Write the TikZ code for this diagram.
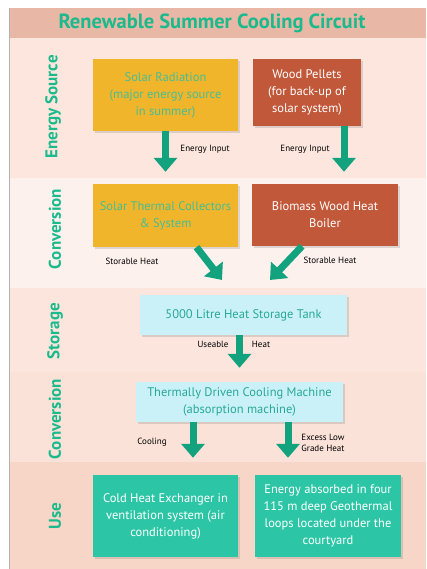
\documentclass[tikz,border=0pt]{standalone}
\usepackage{fontspec}
\setmainfont{PT Sans}
\usetikzlibrary{arrows.meta,shadows}
\definecolor{titleband}{RGB}{233,183,165}
\definecolor{sourceband}{RGB}{252,230,221}
\definecolor{convband}{RGB}{253,241,237}
\definecolor{storeband}{RGB}{251,229,221}
\definecolor{coolband}{RGB}{250,226,216}
\definecolor{useband}{RGB}{247,214,200}
\definecolor{gold}{RGB}{240,181,42}
\definecolor{rust}{RGB}{194,88,58}
\definecolor{mint}{RGB}{70,190,150}
\definecolor{palecyan}{RGB}{202,241,248}
\definecolor{tealtext}{RGB}{40,168,150}
\definecolor{turq}{RGB}{44,198,166}
\definecolor{sidegreen}{RGB}{26,186,140}
\definecolor{flowgreen}{RGB}{18,163,126}
\tikzstyle{box}=[rectangle,inner sep=2pt,align=center,font=\fontsize{12.5}{17}\selectfont,drop shadow={opacity=0.25,shadow xshift=2pt,shadow yshift=-2pt}]
\tikzstyle{sunbox}=[box,fill=gold,text=mint]
\tikzstyle{woodbox}=[box,fill=rust,text=white]
\tikzstyle{palebox}=[box,fill=palecyan,text=tealtext]
\tikzstyle{usebox}=[box,fill=turq,text=white]
\tikzstyle{side}=[rotate=90,font=\bfseries\fontsize{17}{17}\selectfont,text=sidegreen]
\tikzstyle{tag}=[font=\fontsize{9}{11}\selectfont,align=left,inner sep=1pt]
\tikzstyle{flow}=[draw=flowgreen,line width=7pt,-{Triangle[width=23pt,length=14pt]}]

\begin{document}
\begin{tikzpicture}[x=1pt,y=-1pt]
                        \useasboundingbox (0,0) rectangle (426,569);
                        \fill[white] (0,0) rectangle (426,569);

                        % bands
                        \fill[titleband] (9,8) rectangle (426,38);
                        \fill[sourceband] (9,38) rectangle (426,178);
                        \fill[convband] (9,178) rectangle (426,288);
                        \fill[storeband] (9,288) rectangle (426,372);
                        \fill[coolband] (9,372) rectangle (426,462);
                        \fill[useband] (9,462) rectangle (426,569);
                        \draw[gray!60,line width=0.6pt] (9,8) -- (9,569);

                        \node[font=\bfseries\fontsize{20.5}{20.5}\selectfont,text=sidegreen] (title) at (212,23) {Renewable Summer Cooling Circuit};

                        \node[side] (lsource) at (53,107) {Energy Source};
                        \node[side] (lconv) at (55,229) {Conversion};
                        \node[side] (lstore) at (55,331) {Storage};
                        \node[side] (lcool) at (55,419) {Conversion};
                        \node[side] (luse) at (55,516) {Use};

                        \node[sunbox,minimum width=145pt,minimum height=72pt] (solar) at (165.5,95) {Solar Radiation\\(major energy source\\in summer)};
                        \node[woodbox,minimum width=108pt,minimum height=67pt] (wood) at (307,92.5) {Wood Pellets\\(for back-up of\\solar system)};
                        \node[sunbox,minimum width=145pt,minimum height=63pt] (thermal) at (165.5,215.5) {Solar Thermal Collectors\\\& System};
                        \node[woodbox,minimum width=146pt,minimum height=62pt] (biomass) at (325,215) {Biomass Wood Heat\\Boiler};
                        \node[palebox,minimum width=207pt,minimum height=40pt] (tank) at (243.5,315) {5000 Litre Heat Storage Tank};
                        \node[palebox,minimum width=207pt,minimum height=40pt] (chiller) at (239.5,402) {Thermally Driven Cooling Machine\\(absorption machine)};
                        \node[usebox,minimum width=145pt,minimum height=82pt] (exchanger) at (165.5,516) {Cold Heat Exchanger in\\ventilation system (air\\conditioning)};
                        \node[usebox,minimum width=146pt,minimum height=82pt] (geo) at (328,516) {Energy absorbed in four\\115 m deep Geothermal\\loops located under the\\courtyard};

                        \coordinate (in1) at (222,280);
                        \coordinate (in2) at (270,280);

                        \draw[flow,shorten >=12pt] (solar) -- (thermal);
                        \draw[flow,shorten >=12pt] ([xshift=37pt]wood.south) -- ([xshift=37pt]wood.south |- biomass.north);
                        \draw[flow] ([xshift=31pt]thermal.south) -- (in1);
                        \draw[flow] ([xshift=-23pt]biomass.south) -- (in2);
                        \draw[flow,shorten >=14pt] ([xshift=-4pt]tank.south) -- (chiller.north);
                        \draw[flow,shorten >=17pt] ([xshift=-46.5pt]chiller.south) -- ([xshift=-46.5pt]chiller.south |- exchanger.north);
                        \draw[flow,shorten >=17pt] ([xshift=48.5pt]chiller.south) -- ([xshift=48.5pt]chiller.south |- geo.north);

                        \node[tag] (t1) at (205,149) {Energy Input};
                        \node[tag] (t2) at (305,149) {Energy Input};
                        \node[tag] (t3) at (132,261) {Storable Heat};
                        \node[tag] (t4) at (330,260) {Storable Heat};
                        \node[tag] (t5) at (213,344) {Useable};
                        \node[tag] (t6) at (261,344) {Heat};
                        \node[tag] (t7) at (152,442) {Cooling};
                        \node[tag] (t8) at (323,443) {Excess Low\\Grade Heat};

    \end{tikzpicture}
\end{document}
